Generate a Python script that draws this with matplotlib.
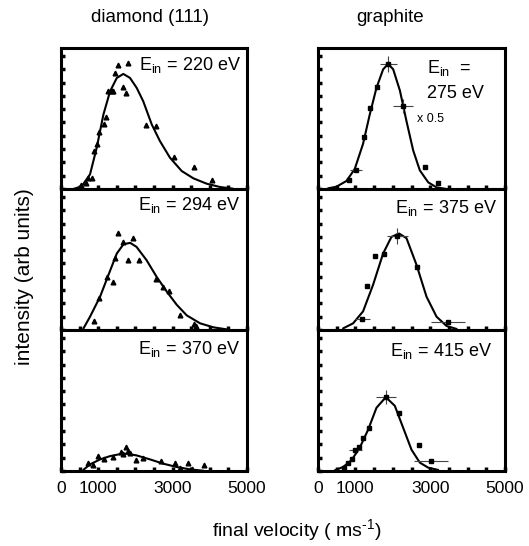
import matplotlib
matplotlib.use('Agg')
import matplotlib.pyplot as plt

plt.rcParams['font.family'] = ['Liberation Sans', 'DejaVu Sans']
plt.rcParams['mathtext.fontset'] = 'custom'
plt.rcParams['mathtext.rm'] = 'Liberation Sans'
plt.rcParams['mathtext.it'] = 'Liberation Sans'
plt.rcParams['mathtext.bf'] = 'Liberation Sans'

# ---------------- data (final velocity in m/s, intensity in arb. units) ----------------
# diamond (111), E_in = 220 eV
d220_curve_v = [330, 555, 780, 960, 1140, 1320, 1500, 1675, 1855, 2035, 2210, 2440, 2660, 2930, 3245, 3560, 3915, 4275, 4630]
d220_curve_i = [0.0, 0.2, 1.1, 3.1, 5.6, 7.35, 8.35, 8.65, 8.35, 7.6, 6.6, 4.85, 3.6, 2.35, 1.35, 0.8, 0.4, 0.15, 0.02]
d220_pts_v = [538, 672, 735, 824, 896, 960, 1030, 1156, 1210, 1272, 1362, 1406, 1450, 1541, 1658, 1747, 1792, 2276, 2545, 3046, 3575, 4068]
d220_pts_i = [0.3, 0.48, 0.8, 0.8, 2.85, 3.35, 4.3, 4.85, 5.4, 7.4, 7.4, 7.4, 8.7, 9.3, 7.65, 7.2, 9.5, 4.8, 4.7, 2.4, 1.65, 0.65]

# diamond (111), E_in = 294 eV
d294_curve_v = [600, 780, 1050, 1270, 1500, 1680, 1860, 2030, 2300, 2570, 2840, 3110, 3380, 3740, 4100, 4450]
d294_curve_i = [0.1, 1.0, 2.5, 4.1, 5.75, 6.45, 6.55, 6.25, 5.25, 4.0, 2.9, 1.9, 1.1, 0.5, 0.2, 0.05]
d294_pts_v = [896, 1030, 1245, 1390, 1455, 1541, 1675, 1810, 1926, 2105, 2545, 2750, 2900, 3200, 3585, 3620]
d294_pts_i = [0.7, 2.4, 4.0, 3.6, 5.4, 7.3, 6.6, 5.25, 6.95, 5.25, 3.8, 3.2, 2.9, 1.1, 0.45, 0.3]

# diamond (111), E_in = 370 eV
d370_curve_v = [600, 780, 1050, 1320, 1590, 1770, 2035, 2395, 2750, 3110, 3470, 3830]
d370_curve_i = [0.08, 0.5, 0.87, 1.12, 1.27, 1.3, 1.17, 0.87, 0.55, 0.3, 0.12, 0.02]
d370_pts_v = [735, 870, 1000, 1165, 1406, 1600, 1675, 1747, 1792, 1855, 2016, 2213, 2680, 3065, 3200, 3405, 3530, 3845]
d370_pts_i = [0.57, 0.45, 1.12, 0.87, 1.07, 1.42, 1.25, 1.8, 1.5, 1.37, 0.82, 1.0, 0.75, 0.57, 0.25, 0.57, 0.12, 0.42]

# graphite, E_in = 275 eV (x 0.5)
g275_curve_v = [268, 491, 760, 982, 1205, 1384, 1563, 1742, 1875, 2010, 2190, 2366, 2545, 2723, 2947, 3170, 3438]
g275_curve_i = [0.05, 0.17, 0.6, 1.5, 3.4, 5.6, 7.6, 9.0, 9.4, 9.0, 7.4, 5.1, 2.9, 1.4, 0.5, 0.12, 0.0]
g275_pts_v = [821, 1009, 1223, 1402, 1580, 1875, 2277, 2857, 3197]
g275_pts_i = [0.68, 1.43, 3.9, 6.1, 7.7, 9.4, 6.25, 1.68, 0.43]
g275_err_v = [0, 155, 0, 0, 0, 225, 275, 0, 0]
g275_err_i = [0, 0, 0, 0, 0, 0.6, 0.55, 0, 0]

# graphite, E_in = 375 eV
g375_curve_v = [670, 938, 1205, 1473, 1741, 1964, 2170, 2366, 2634, 2902, 3170, 3438, 3706]
g375_curve_i = [0.12, 0.5, 1.4, 3.4, 5.75, 7.0, 7.25, 6.9, 4.9, 2.5, 1.0, 0.3, 0.08]
g375_pts_v = [1179, 1322, 1518, 1768, 2125, 2634, 3483]
g375_pts_i = [0.83, 3.3, 5.55, 5.75, 7.1, 4.7, 0.57]
g375_err_v = [200, 0, 0, 0, 270, 0, 450]
g375_err_i = [0, 0, 0, 0, 0.6, 0, 0]

# graphite, E_in = 415 eV
g415_curve_v = [447, 670, 893, 1116, 1340, 1563, 1813, 2054, 2277, 2500, 2723, 2947, 3215]
g415_curve_i = [0.05, 0.3, 0.8, 1.75, 3.1, 4.75, 5.55, 4.9, 3.25, 1.6, 0.63, 0.25, 0.08]
g415_pts_v = [688, 804, 911, 1000, 1098, 1205, 1357, 1813, 2170, 2706, 3018]
g415_pts_i = [0.25, 0.58, 0.88, 1.55, 1.8, 2.5, 3.25, 5.55, 4.33, 1.95, 0.75]
g415_err_v = [0, 0, 0, 180, 0, 0, 0, 270, 0, 0, 445]
g415_err_i = [0, 0, 0, 0, 0, 0, 0, 0.55, 0, 0, 0]

x_ticks = [0, 500, 1000, 1500, 2000, 2500, 3000, 3500, 4000, 4500, 5000]
x_ticklabels = ['0', '', '1000', '', '', '', '3000', '', '', '', '5000']
y_ticks = [0, 1, 2, 3, 4, 5, 6, 7, 8, 9, 10]

col_titles = ['diamond (111)', 'graphite']
x_label = 'final velocity ( ms$^{\\mathrm{\u2010}1}$)'
y_label = 'intensity (arb units)'

# ---------------- figure ----------------
fig = plt.figure(figsize=(5.29, 5.46), dpi=100)
W, H = 529.0, 546.0

col_left = [61, 318]
col_width = [186, 187]
row_top = [48, 189, 330]
row_h = 141

def make_ax(c, r):
    l = col_left[c] / W
    b = 1 - (row_top[r] + row_h) / H
    return fig.add_axes([l, b, col_width[c] / W, row_h / H])

def style(ax, bottom_labels):
    ax.set_xlim(0, 5000)
    ax.set_ylim(0, 10.6)
    for s in ax.spines.values():
        s.set_linewidth(2.2)
    ax.set_xticks(x_ticks)
    ax.set_yticks(y_ticks)
    ax.set_yticklabels([])
    if bottom_labels:
        ax.set_xticklabels(x_ticklabels, fontsize=12.5)
    else:
        ax.set_xticklabels([])
    ax.tick_params(direction='in', length=3, width=2.5, pad=7,
                   top=False, right=False)

diamond = [
    (d220_curve_v, d220_curve_i, d220_pts_v, d220_pts_i, r'E$_{\mathrm{in}}$ = 220 eV', 0.965, 0.88),
    (d294_curve_v, d294_curve_i, d294_pts_v, d294_pts_i, r'E$_{\mathrm{in}}$ = 294 eV', 0.962, 0.885),
    (d370_curve_v, d370_curve_i, d370_pts_v, d370_pts_i, r'E$_{\mathrm{in}}$ = 370 eV', 0.962, 0.865),
]
for r, (cv, ci, pv, pi, lab, tx, ty) in enumerate(diamond):
    ax = make_ax(0, r)
    ax.plot(cv, ci, color='black', lw=1.5, solid_capstyle='round', solid_joinstyle='round')
    ax.plot(pv, pi, linestyle='none', marker='^', ms=3.4, color='black')
    ax.text(tx, ty, lab, transform=ax.transAxes, ha='right', va='center', fontsize=13)
    style(ax, r == 2)

graphite = [
    (g275_curve_v, g275_curve_i, g275_pts_v, g275_pts_i, g275_err_v, g275_err_i),
    (g375_curve_v, g375_curve_i, g375_pts_v, g375_pts_i, g375_err_v, g375_err_i),
    (g415_curve_v, g415_curve_i, g415_pts_v, g415_pts_i, g415_err_v, g415_err_i),
]
for r, (cv, ci, pv, pi, ev, ei) in enumerate(graphite):
    ax = make_ax(1, r)
    ax.plot(cv, ci, color='black', lw=1.5, solid_capstyle='round', solid_joinstyle='round')
    ax.errorbar(pv, pi, xerr=ev, yerr=ei, fmt='none', ecolor='#444444', elinewidth=0.8, capsize=0)
    ax.plot(pv, pi, linestyle='none', marker='s', ms=2.6, color='black')
    style(ax, r == 2)
    if r == 0:
        ax.text(0.583, 0.858, r'E$_{\mathrm{in}}$  =', transform=ax.transAxes, ha='left', va='center', fontsize=13)
        ax.text(0.583, 0.68, '275 eV', transform=ax.transAxes, ha='left', va='center', fontsize=13)
        ax.text(0.53, 0.496, 'x 0.5', transform=ax.transAxes, ha='left', va='center', fontsize=9)
    elif r == 1:
        ax.text(0.957, 0.865, r'E$_{\mathrm{in}}$ = 375 eV', transform=ax.transAxes, ha='right', va='center', fontsize=13)
    else:
        ax.text(0.93, 0.85, r'E$_{\mathrm{in}}$ = 415 eV', transform=ax.transAxes, ha='right', va='center', fontsize=13)

fig.text(150 / W, 1 - 18 / H, col_titles[0], ha='center', va='center', fontsize=13.5)
fig.text(390 / W, 1 - 18 / H, col_titles[1], ha='center', va='center', fontsize=13.5)
fig.text(297 / W, 1 - 530 / H, x_label, ha='center', va='center', fontsize=14)
fig.text(25 / W, 1 - 277 / H, y_label, ha='center', va='center', rotation=90, fontsize=15)

fig.savefig('out.png', dpi=100)
